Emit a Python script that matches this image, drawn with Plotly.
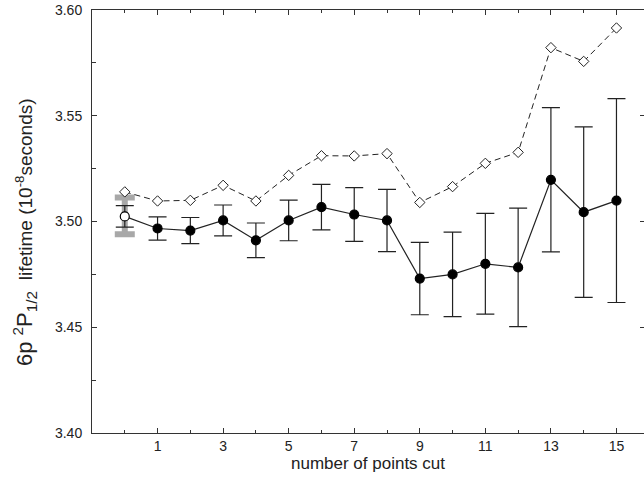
import plotly.graph_objects as go

# ---- data ----
points_cut = list(range(0, 16))
lifetime = [3.5024, 3.4967, 3.4957, 3.5005, 3.4911, 3.5005, 3.5068, 3.5033,
            3.5005, 3.4730, 3.4750, 3.4800, 3.4783, 3.5197, 3.5044, 3.5099]
lifetime_err = [0.0051, 0.0055, 0.0062, 0.0073, 0.0082, 0.0096, 0.0108, 0.0127,
                0.0147, 0.0171, 0.0200, 0.0238, 0.0280, 0.0341, 0.0403, 0.0482]
diamond_values = [3.5140, 3.5097, 3.5100, 3.5171, 3.5097, 3.5218, 3.5311, 3.5310,
                  3.5321, 3.5090, 3.5165, 3.5275, 3.5327, 3.5822, 3.5757, 3.5915]
ref_x = [0]
ref_value = [3.5027]
ref_err = [0.0087]

x_tick_major = [1, 3, 5, 7, 9, 11, 13, 15]
x_tick_minor = [0, 2, 4, 6, 8, 10, 12, 14]
y_tick_vals = [3.40, 3.45, 3.50, 3.55, 3.60]
y_tick_text = ["3.40", "3.45", "3.50", "3.55", "3.60"]
right_tick_vals = [3.45, 3.50, 3.55]

FONT = "Liberation Sans, Arial, Helvetica, sans-serif"
INK = "#222222"

fig = go.Figure()

# grey reference error bar at x=0
fig.add_trace(go.Scatter(
    x=ref_x, y=ref_value, mode="markers",
    marker=dict(size=1, color="rgba(0,0,0,0)"),
    error_y=dict(type="data", array=ref_err, visible=True,
                 color="#a8a8a8", thickness=6, width=10),
    showlegend=False, hoverinfo="skip"))

# dashed diamond series
fig.add_trace(go.Scatter(
    x=points_cut, y=diamond_values, mode="lines+markers",
    line=dict(color=INK, width=1, dash="6px,4px"),
    marker=dict(symbol="diamond", size=8, color="white",
                line=dict(color=INK, width=1)),
    showlegend=False))

# main series with error bars
marker_colors = ["white"] + ["black"] * (len(points_cut) - 1)
fig.add_trace(go.Scatter(
    x=points_cut, y=lifetime, mode="lines+markers",
    line=dict(color=INK, width=1.2),
    marker=dict(symbol="circle", size=9, color=marker_colors,
                line=dict(color="black", width=1.2)),
    error_y=dict(type="data", array=lifetime_err, visible=True,
                 color=INK, thickness=1.2, width=9),
    showlegend=False))

y_title = ("<span style='font-size:22px'>6p <sup>2</sup>P<sub>1/2</sub></span>"
           "  lifetime (10<sup>-8</sup>seconds)")

fig.update_layout(
    width=644, height=481,
    margin=dict(l=92, r=0, t=10, b=48),
    paper_bgcolor="white", plot_bgcolor="white",
    font=dict(family=FONT, size=14, color=INK),
    xaxis=dict(
        range=[-1, 15.84], showgrid=False, zeroline=False,
        showline=True, linecolor="#333333", linewidth=1, mirror="ticks",
        ticks="inside", ticklen=5, tickcolor="#333333",
        tickvals=x_tick_major, ticktext=[str(v) for v in x_tick_major],
        tickfont=dict(size=14),
        minor=dict(tickvals=x_tick_minor, ticks="inside", ticklen=3,
                   tickcolor="#333333", showgrid=False),
        title=dict(text="number of points cut", font=dict(size=17), standoff=4),
    ),
    yaxis=dict(
        range=[3.40, 3.60], showgrid=False, zeroline=False,
        showline=True, linecolor="#333333", linewidth=1,
        ticks="inside", ticklen=5, tickcolor="#333333",
        tickvals=y_tick_vals, ticktext=y_tick_text, tickfont=dict(size=14),
        ticklabelstandoff=6,
        minor=dict(dtick=0.025, tick0=3.40, ticks="inside", ticklen=4,
                   tickcolor="#333333", showgrid=False),
    ),
    yaxis2=dict(
        range=[3.40, 3.60], overlaying="y", side="right",
        showgrid=False, zeroline=False, showline=False,
        ticks="inside", ticklen=4, tickcolor="#333333",
        tickvals=right_tick_vals, showticklabels=False,
    ),
    annotations=[dict(
        text=y_title, textangle=-90, showarrow=False,
        xref="paper", yref="paper", x=0, y=0.475,
        xanchor="center", yanchor="middle", xshift=-68,
        font=dict(family=FONT, size=19, color=INK),
    )],
)

# invisible trace so the right-hand tick axis is rendered
fig.add_trace(go.Scatter(x=[None], y=[None], yaxis="y2", showlegend=False,
                         hoverinfo="skip"))

fig.write_html("out.html", config={"displayModeBar": False},
               post_script="document.body.style.margin='0';document.body.style.overflow='hidden';")
